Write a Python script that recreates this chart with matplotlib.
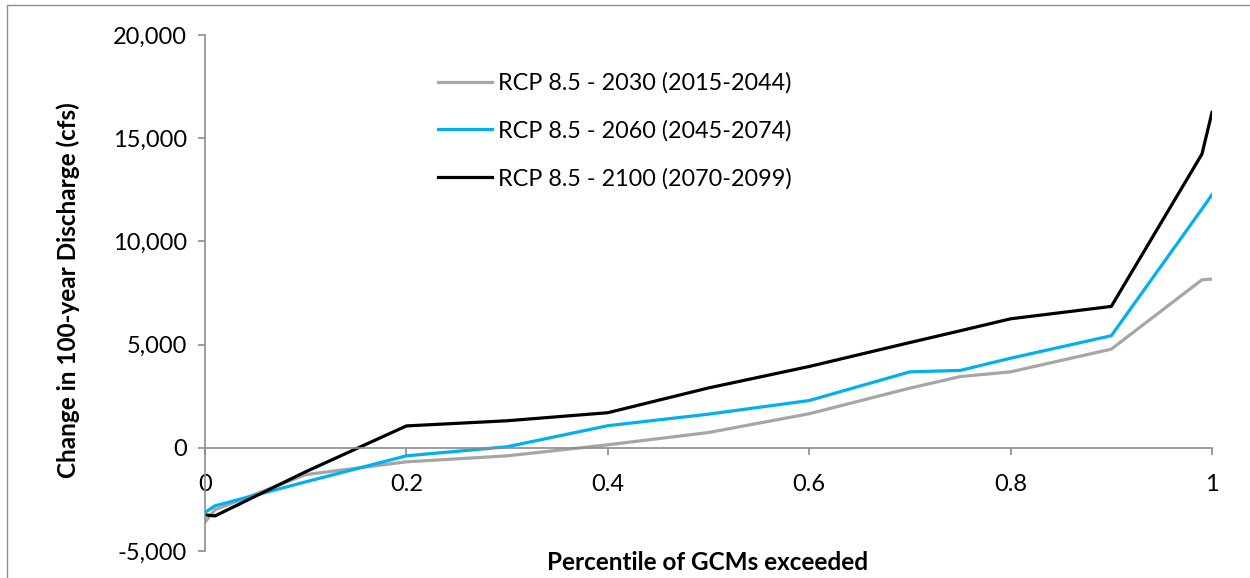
import matplotlib
matplotlib.use("Agg")
import matplotlib.pyplot as plt
from matplotlib.patches import Rectangle

plt.rcParams['font.family'] = ['Lato', 'DejaVu Sans']

percentile = [0, 0.01, 0.1, 0.2, 0.3, 0.4, 0.5, 0.6, 0.7, 0.75, 0.8, 0.9, 0.99, 1.0]
rcp_2030 = [-3600, -3000, -1300, -680, -390, 145, 740, 1650, 2890, 3450, 3680, 4780, 8140, 8170]
rcp_2060 = [-3130, -2810, -1650, -390, 50, 1070, 1630, 2290, 3680, 3750, 4340, 5430, 11570, 12260]
rcp_2100 = [-3250, -3300, -1160, 1060, 1310, 1700, 2900, 3940, 5100, 5670, 6250, 6850, 14230, 16250]
labels = ["RCP 8.5 - 2030 (2015-2044)", "RCP 8.5 - 2060 (2045-2074)", "RCP 8.5 - 2100 (2070-2099)"]
colors = ["#A6A6A6", "#00B0F0", "#000000"]
x_ticks = [0, 0.2, 0.4, 0.6, 0.8, 1]
x_ticklabels = ["0", "0.2", "0.4", "0.6", "0.8", "1"]
y_ticks = [-5000, 0, 5000, 10000, 15000, 20000]

W, H = 1250, 578
fig = plt.figure(figsize=(W / 100, H / 100), dpi=100)
fig.patches.append(Rectangle((7 / W, -0.1), 1.2, (1 - 5 / H) + 0.1, transform=fig.transFigure,
                             fill=False, edgecolor="#8C8C8C", linewidth=1.0))
ax = fig.add_axes([205 / W, 1 - 551 / H, (1212 - 205) / W, (551 - 35) / H])

for ys, lab, c in zip([rcp_2030, rcp_2060, rcp_2100], labels, colors):
    ax.plot(percentile, ys, color=c, linewidth=2.3, label=lab, solid_joinstyle='miter')

ax.set_xlim(0, 1)
ax.set_ylim(-5000, 20000)
ax.set_xticks(x_ticks)
ax.set_xticklabels(x_ticklabels)
ax.set_yticks(y_ticks)
ax.set_yticklabels([f"{v:,}" for v in y_ticks])

for s in ['top', 'right']:
    ax.spines[s].set_visible(False)
ax.spines['bottom'].set_position(('data', 0))
for s in ['left', 'bottom']:
    ax.spines[s].set_color("#8C8C8C")
    ax.spines[s].set_linewidth(1.2)
ax.tick_params(axis='both', colors="#8C8C8C", labelcolor="black", labelsize=17, length=5, width=1.2, direction='out')
ax.tick_params(axis='x', pad=14)
ax.tick_params(axis='y', pad=8)

fig.text(708 / W, 1 - 562 / H, "Percentile of GCMs exceeded", ha='center', va='center',
         fontsize=17.5, fontweight='bold')
fig.text(68 / W, 1 - 290 / H, "Change in 100-year Discharge (cfs)", ha='center', va='center',
         rotation=90, fontsize=17.5, fontweight='bold')

leg = ax.legend(loc='upper left', bbox_to_anchor=((429 - 205) / 1007, 1 - (63 - 35) / 516),
                frameon=False, fontsize=16.8, handlelength=2.3, handletextpad=0.25,
                labelspacing=1.12, borderaxespad=0)

fig.savefig("out.png", dpi=100)
